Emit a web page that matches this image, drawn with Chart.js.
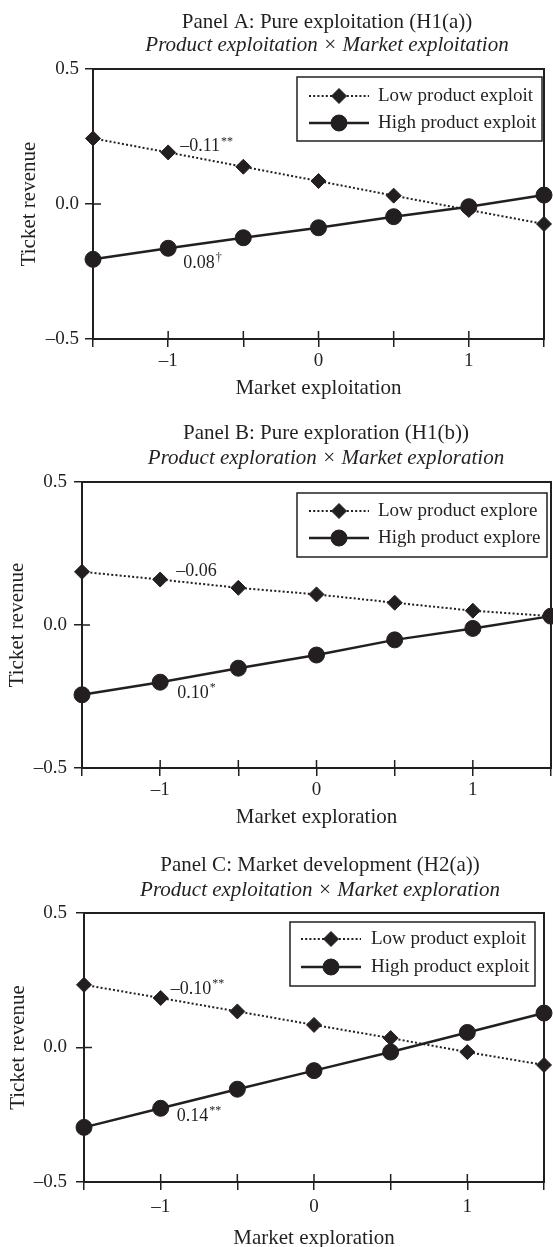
<!DOCTYPE html>
<html>
<head>
<meta charset="utf-8">
<title>Ticket revenue interactions</title>
<script src="https://cdn.jsdelivr.net/npm/chart.js@4.4.1/dist/chart.umd.min.js"></script>
<style>
  html, body { margin: 0; padding: 0; background: #fff; }
  body { width: 553px; height: 1247px; position: relative; overflow: hidden; }
  .painel { position: absolute; left: 0; }
  canvas { display: block; }
</style>
</head>
<body>
<div class="painel" id="wrapA"><canvas id="chartA"></canvas></div>
<div class="painel" id="wrapB"><canvas id="chartB"></canvas></div>
<div class="painel" id="wrapC"><canvas id="chartC"></canvas></div>
<script>
// eixos (iguais nos tres paineis)
const xValues = [-1.5, -1, -0.5, 0, 0.5, 1, 1.5];
const xTickLabels = ["", "\u20131", "", "0", "", "1", ""];
const yValues = [-0.5, 0, 0.5];
const yTickLabels = ["\u20130.5", "0.0", "0.5"];

// Panel A
const lowA = [0.243, 0.191, 0.138, 0.085, 0.031, -0.022, -0.074];
const highA = [-0.205, -0.164, -0.125, -0.088, -0.047, -0.010, 0.033];
// Panel B
const lowB = [0.186, 0.159, 0.130, 0.107, 0.078, 0.050, 0.031];
const highB = [-0.244, -0.200, -0.151, -0.105, -0.052, -0.012, 0.031];
// Panel C
const lowC = [0.233, 0.184, 0.134, 0.084, 0.035, -0.017, -0.065];
const highC = [-0.297, -0.226, -0.155, -0.086, -0.017, 0.056, 0.128];

const titlesA = ["Panel A: Pure exploitation (H1(a))", "Product exploitation \u00d7 Market exploitation"];
const titlesB = ["Panel B: Pure exploration (H1(b))", "Product exploration \u00d7 Market exploration"];
const titlesC = ["Panel C: Market development (H2(a))", "Product exploitation \u00d7 Market exploration"];
const xTitleA = "Market exploitation";
const xTitleB = "Market exploration";
const xTitleC = "Market exploration";
const yTitle = "Ticket revenue";
const legendA = ["Low product exploit", "High product exploit"];
const legendB = ["Low product explore", "High product explore"];
const legendC = ["Low product exploit", "High product exploit"];
const notesA = [{ text: "\u20130.11", sup: "**" }, { text: "0.08", sup: "\u2020" }];
const notesB = [{ text: "\u20130.06", sup: "" }, { text: "0.10", sup: "*" }];
const notesC = [{ text: "\u20130.10", sup: "**" }, { text: "0.14", sup: "**" }];

const ink = "#231f20";
const serif = '"Liberation Serif", "Times New Roman", serif';

// posicoes de cada painel (pixels dentro do canvas)
const layoutA = {
  top: 0, width: 553, height: 406, left: 93, right: 552, plotTop: 69, plotBottom: 339,
  titleX: 327, titleY: 22, subY: 45, yLabelPad: 6, xLabelPad: 3, yTitleX: 29, xTitleY: 388,
  box: { x: 297, y: 77, w: 245, h: 64 }, rows: [96, 123], sampleX: 309, textX: 378,
  notePos: [{ dx: 12, dy: -6 }, { dx: 15, dy: 15 }]
};
const layoutB = {
  top: 410, width: 560, height: 424, left: 82, right: 555, plotTop: 72, plotBottom: 358,
  titleX: 326, titleY: 23, subY: 48, yLabelPad: 7, xLabelPad: 3, yTitleX: 17, xTitleY: 407,
  box: { x: 297, y: 83, w: 250, h: 64 }, rows: [101, 128], sampleX: 309, textX: 378,
  notePos: [{ dx: 16, dy: -8 }, { dx: 17, dy: 11 }]
};
const layoutC = {
  top: 820, width: 553, height: 435, left: 84, right: 544, plotTop: 93, plotBottom: 362,
  titleX: 320, titleY: 45, subY: 70, yLabelPad: 9, xLabelPad: 6, yTitleX: 18, xTitleY: 418,
  box: { x: 290, y: 102, w: 245, h: 64 }, rows: [119, 147], sampleX: 301, textX: 371,
  notePos: [{ dx: 10, dy: -9 }, { dx: 16, dy: 8 }]
};

Chart.defaults.font.family = serif;
Chart.defaults.color = ink;

function marcador(ctx, style, r, x, y) {
  ctx.beginPath();
  if (style === "rectRot") {
    ctx.moveTo(x - r, y);
    ctx.lineTo(x, y - r);
    ctx.lineTo(x + r, y);
    ctx.lineTo(x, y + r);
    ctx.closePath();
  } else {
    ctx.arc(x, y, r, 0, Math.PI * 2);
  }
  ctx.fill();
  ctx.stroke();
}

function makePanel(id, L, titles, xTitle, legendTexts, notes, low, high) {
  const canvas = document.getElementById(id);
  canvas.width = L.width;
  canvas.height = L.height;
  canvas.parentElement.style.top = L.top + "px";

  const extras = {
    id: "extras" + id,
    afterDatasetsDraw(chart) {
      const ctx = chart.ctx;
      const a = chart.chartArea;
      const sx = chart.scales.x;
      const sy = chart.scales.y;
      ctx.save();
      ctx.strokeStyle = ink;
      // moldura (topo e direita)
      ctx.lineWidth = 2;
      ctx.strokeRect(a.left, a.top, a.right - a.left, a.bottom - a.top);
      // marcas para dentro
      ctx.lineWidth = 1.5;
      ctx.beginPath();
      xValues.forEach((v) => {
        const px = sx.getPixelForValue(v);
        ctx.moveTo(px, a.bottom);
        ctx.lineTo(px, a.bottom - 8);
      });
      yValues.forEach((v) => {
        const py = sy.getPixelForValue(v);
        ctx.moveTo(a.left, py);
        ctx.lineTo(a.left + 8, py);
      });
      ctx.stroke();
      ctx.restore();
    },
    afterDraw(chart) {
      const ctx = chart.ctx;
      const sx = chart.scales.x;
      const sy = chart.scales.y;
      ctx.save();
      ctx.fillStyle = ink;
      ctx.strokeStyle = ink;
      ctx.textBaseline = "middle";

      // titulos
      ctx.textAlign = "center";
      ctx.font = "21px " + serif;
      ctx.fillText(titles[0], L.titleX, L.titleY);
      ctx.font = "italic 21px " + serif;
      ctx.fillText(titles[1], L.titleX, L.subY);

      // legenda
      ctx.lineWidth = 1.5;
      ctx.strokeRect(L.box.x, L.box.y, L.box.w, L.box.h);
      chart.data.datasets.forEach((ds, i) => {
        const y = L.rows[i];
        ctx.beginPath();
        ctx.setLineDash(ds.borderDash);
        ctx.lineWidth = ds.borderWidth;
        ctx.moveTo(L.sampleX, y);
        ctx.lineTo(L.sampleX + 60, y);
        ctx.stroke();
        ctx.setLineDash([]);
        ctx.lineWidth = 1;
        marcador(ctx, ds.pointStyle, ds.pointRadius, L.sampleX + 30, y);
        ctx.textAlign = "left";
        ctx.font = "19px " + serif;
        ctx.fillText(legendTexts[i], L.textX, y);
      });

      // inclinacoes
      notes.forEach((n, i) => {
        const series = i === 0 ? low : high;
        const px = sx.getPixelForValue(xValues[1]) + L.notePos[i].dx;
        const py = sy.getPixelForValue(series[1]) + L.notePos[i].dy;
        ctx.textAlign = "left";
        ctx.font = "18px " + serif;
        ctx.fillText(n.text, px, py);
        if (n.sup) {
          const w = ctx.measureText(n.text).width;
          ctx.font = "12px " + serif;
          ctx.fillText(n.sup, px + w + 1, py - 5);
        }
      });
      ctx.restore();
    }
  };

  return new Chart(canvas, {
    type: "line",
    data: {
      datasets: [{
        label: legendTexts[0],
        data: xValues.map((x, i) => ({ x: x, y: low[i] })),
        borderColor: ink,
        borderWidth: 2,
        borderDash: [2, 2.2],
        pointStyle: "rectRot",
        pointRadius: 7.5,
        pointBackgroundColor: ink,
        pointBorderColor: ink,
        pointBorderWidth: 1,
        tension: 0,
        clip: false,
        order: 1
      }, {
        label: legendTexts[1],
        data: xValues.map((x, i) => ({ x: x, y: high[i] })),
        borderColor: ink,
        borderWidth: 2.5,
        borderDash: [],
        pointStyle: "circle",
        pointRadius: 8,
        pointBackgroundColor: ink,
        pointBorderColor: ink,
        pointBorderWidth: 1,
        tension: 0,
        clip: false,
        order: 0
      }]
    },
    options: {
      responsive: false,
      animation: false,
      events: [],
      layout: { padding: { top: L.plotTop, right: L.width - L.right, left: 0, bottom: 0 } },
      plugins: {
        legend: { display: false },
        tooltip: { enabled: false }
      },
      scales: {
        x: {
          type: "linear",
          min: -1.5,
          max: 1.5,
          afterBuildTicks: (s) => { s.ticks = xValues.map((v) => ({ value: v })); },
          afterFit: (s) => { s.height = L.height - L.plotBottom; },
          ticks: {
            callback: (v) => xTickLabels[xValues.indexOf(v)] ?? "",
            padding: L.xLabelPad,
            font: { size: 19 },
            color: ink,
            maxRotation: 0,
            autoSkip: false
          },
          grid: { drawOnChartArea: false, drawTicks: true, tickLength: 8, color: ink, lineWidth: 1.5 },
          border: { display: true, color: ink, width: 2 },
          title: {
            display: true,
            text: xTitle,
            font: { size: 21 },
            color: ink,
            padding: { top: 0, bottom: L.height - L.xTitleY - 12.6 }
          }
        },
        y: {
          type: "linear",
          min: -0.5,
          max: 0.5,
          afterBuildTicks: (s) => { s.ticks = yValues.map((v) => ({ value: v })); },
          afterFit: (s) => { s.width = L.left; },
          ticks: {
            callback: (v) => yTickLabels[yValues.indexOf(v)] ?? "",
            padding: L.yLabelPad,
            font: { size: 19 },
            color: ink
          },
          grid: { drawOnChartArea: false, drawTicks: true, tickLength: 8, color: ink, lineWidth: 1.5 },
          border: { display: true, color: ink, width: 2 },
          title: {
            display: true,
            text: yTitle,
            font: { size: 21 },
            color: ink,
            padding: { top: L.yTitleX - 12.6, bottom: 0 }
          }
        }
      }
    },
    plugins: [extras]
  });
}

makePanel("chartA", layoutA, titlesA, xTitleA, legendA, notesA, lowA, highA);
makePanel("chartB", layoutB, titlesB, xTitleB, legendB, notesB, lowB, highB);
makePanel("chartC", layoutC, titlesC, xTitleC, legendC, notesC, lowC, highC);
</script>
</body>
</html>
